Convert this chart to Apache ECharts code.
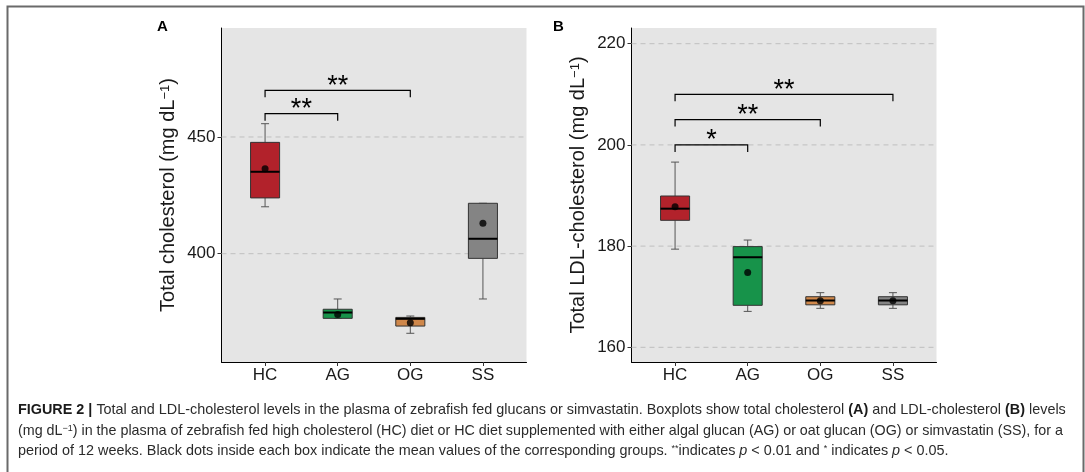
<!DOCTYPE html>
<html>
<head>
<meta charset="utf-8">
<script src="https://cdn.jsdelivr.net/npm/echarts@6/dist/echarts.min.js"></script>
<style>
  html, body { margin: 0; padding: 0; background: #fff; }
  #chart { width: 1085px; height: 472px; }
</style>
</head>
<body>
<div id="chart"></div>
<script>
// groups
var categories = ["HC", "AG", "OG", "SS"];
var boxColors = ["#b2222b", "#17934a", "#cf874a", "#848484"];

// panel A - total cholesterol
var cholMin = [420.1, 372.3, 365.9, 380.6];
var cholQ1 = [423.9, 372.3, 369.0, 398.0];
var cholMedian = [435.1, 374.8, 372.1, 406.4];
var cholQ3 = [447.7, 376.2, 372.7, 421.6];
var cholMax = [455.7, 380.6, 373.3, 421.6];
var cholMean = [436.4, 373.9, 370.4, 413.0];
var cholTicks = [400, 450];
var cholBracketFrom = [0, 0];
var cholBracketTo = [1, 2];
var cholBracketY = [460, 470];
var cholBracketLabel = ["**", "**"];

// panel B - LDL cholesterol
var ldlMin = [179.4, 167.1, 167.7, 167.7];
var ldlQ1 = [185.1, 168.3, 168.4, 168.4];
var ldlMedian = [187.4, 177.8, 169.25, 169.25];
var ldlQ3 = [189.9, 179.9, 170.0, 170.0];
var ldlMax = [196.6, 181.2, 170.8, 170.8];
var ldlMean = [187.8, 174.8, 169.2, 169.2];
var ldlTicks = [160, 180, 200, 220];
var ldlBracketFrom = [0, 0, 0];
var ldlBracketTo = [1, 2, 3];
var ldlBracketY = [200, 205, 210];
var ldlBracketLabel = ["*", "**", "**"];

var FONT = "'Liberation Sans', Arial, Helvetica, sans-serif";
var catIdx = [0, 1, 2, 3];

function boxData(mn, q1, md, q3, mx) {
  return categories.map(function (c, i) {
    return [i, mn[i], q1[i], md[i], q3[i], mx[i]];
  });
}

function renderBox(params, api) {
  var i = api.value(0);
  var band = api.size([1, 0])[0];
  var hw = band * 0.2, cw = band * 0.055;
  var x = api.coord([i, api.value(3)])[0];
  var yMin = api.coord([i, api.value(1)])[1];
  var yQ1 = api.coord([i, api.value(2)])[1];
  var yMed = api.coord([i, api.value(3)])[1];
  var yQ3 = api.coord([i, api.value(4)])[1];
  var yMax = api.coord([i, api.value(5)])[1];
  var wStyle = { stroke: "#555", lineWidth: 1 };
  return {
    type: "group",
    children: [
      { type: "line", shape: { x1: x, y1: yQ3, x2: x, y2: yMax }, style: wStyle },
      { type: "line", shape: { x1: x, y1: yQ1, x2: x, y2: yMin }, style: wStyle },
      { type: "line", shape: { x1: x - cw, y1: yMax, x2: x + cw, y2: yMax }, style: wStyle },
      { type: "line", shape: { x1: x - cw, y1: yMin, x2: x + cw, y2: yMin }, style: wStyle },
      {
        type: "rect",
        shape: { x: x - hw, y: yQ3, width: hw * 2, height: yQ1 - yQ3 },
        style: { fill: boxColors[i], stroke: "#333", lineWidth: 1 }
      },
      { type: "line", shape: { x1: x - hw, y1: yMed, x2: x + hw, y2: yMed }, style: { stroke: "#000", lineWidth: 2 } }
    ]
  };
}

function renderGridLine(params, api) {
  var cs = params.coordSys;
  var y = api.coord([0, api.value(1)])[1];
  return {
    type: "line",
    shape: { x1: cs.x, y1: y, x2: cs.x + cs.width, y2: y },
    style: { stroke: "#bfbfbf", lineWidth: 1, lineDash: [5, 4] }
  };
}

function bracketRenderer(labels) {
  return function (params, api) {
    var p1 = api.coord([api.value(0), api.value(2)]);
    var p2 = api.coord([api.value(1), api.value(2)]);
    return {
      type: "group",
      children: [
        {
          type: "polyline",
          shape: { points: [[p1[0], p1[1] + 7], p1, p2, [p2[0], p2[1] + 7]] },
          style: { stroke: "#000", lineWidth: 1.2, fill: null }
        },
        {
          type: "text",
          style: {
            text: labels[params.dataIndex],
            x: (p1[0] + p2[0]) / 2, y: p1[1] - 4,
            align: "center", verticalAlign: "middle",
            font: "27px " + FONT, fill: "#000"
          }
        }
      ]
    };
  };
}

function bracketData(from, to, y) {
  return from.map(function (f, i) { return [f, to[i], y[i]]; });
}

function xAxisFor(gi) {
  return {
    gridIndex: gi, type: "value", min: -0.6, max: 3.6,
    axisLine: { show: true, onZero: false, lineStyle: { color: "#000", width: 1 } },
    axisTick: { show: true, length: 4, customValues: catIdx, lineStyle: { color: "#333" } },
    axisLabel: {
      customValues: catIdx, fontSize: 17, color: "#1a1a1a", margin: 5, fontFamily: FONT,
      formatter: function (v) { return categories[Math.round(v)]; }
    },
    splitLine: { show: false }
  };
}

function yAxisFor(gi, min, max, ticks, name) {
  return {
    gridIndex: gi, type: "value", min: min, max: max,
    axisLine: { show: true, onZero: false, lineStyle: { color: "#000", width: 1 } },
    axisTick: { show: true, length: 4, customValues: ticks, lineStyle: { color: "#333" } },
    axisLabel: { customValues: ticks, fontSize: 17, color: "#1a1a1a", margin: 6, fontFamily: FONT },
    splitLine: { show: false },
    name: name, nameLocation: "middle", nameGap: 43,
    nameTextStyle: {
      fontSize: 20, color: "#1a1a1a", fontFamily: FONT,
      rich: { sup: { fontSize: 13, verticalAlign: "top", color: "#1a1a1a", fontFamily: FONT } }
    }
  };
}

function gridFor(left) {
  return {
    left: left, top: 28, width: 305, height: 334,
    show: true, backgroundColor: "#e5e5e5", borderWidth: 0,
    outerBoundsMode: "none"
  };
}

var CAP = 14.4;
var captionStyle = {
  fontSize: CAP, fontFamily: FONT, fill: "#2b2b2b",
  rich: {
    b: { fontSize: CAP, fontWeight: "bold", fontFamily: FONT, fill: "#1a1a1a" },
    i: { fontSize: CAP, fontStyle: "italic", fontFamily: FONT, fill: "#2b2b2b" },
    sup: { fontSize: 9, verticalAlign: "top", fontFamily: FONT, fill: "#2b2b2b" }
  }
};

function captionLine(text, y, size) {
  var st = Object.assign({ text: text }, captionStyle);
  if (size) st.fontSize = size;
  return { type: "text", left: 18, top: y, style: st };
}

var chart = echarts.init(document.getElementById("chart"));
chart.setOption({
  animation: false,
  textStyle: { fontFamily: FONT },
  grid: [gridFor(221.5), gridFor(631.5)],
  xAxis: [xAxisFor(0), xAxisFor(1)],
  yAxis: [
    yAxisFor(0, 353.6, 496.7, cholTicks, "Total cholesterol (mg dL{sup|\u22121})"),
    yAxisFor(1, 157.1, 223.1, ldlTicks, "Total LDL-cholesterol (mg dL{sup|\u22121})")
  ],
  graphic: [
    { type: "rect", left: 5, top: 4, shape: { width: 1076, height: 520 }, style: { fill: null, stroke: "#6a6a6a", lineWidth: 2 } },
    { type: "text", left: 157, top: 19, style: { text: "A", font: "bold 15px " + FONT, fill: "#000" } },
    { type: "text", left: 553, top: 19, style: { text: "B", font: "bold 15px " + FONT, fill: "#000" } },
    captionLine("{b|FIGURE 2 |} Total and LDL-cholesterol levels in the plasma of zebrafish fed glucans or simvastatin. Boxplots show total cholesterol {b|(A)} and LDL-cholesterol {b|(B)} levels", 403),
    captionLine("(mg dL{sup|\u22121}) in the plasma of zebrafish fed high cholesterol (HC) diet or HC diet supplemented with either algal glucan (AG) or oat glucan (OG) or simvastatin (SS), for a", 424, 14.3),
    captionLine("period of 12 weeks. Black dots inside each box indicate the mean values of the corresponding groups. {sup|**}indicates {i|p} < 0.01 and {sup|*} indicates {i|p} < 0.05.", 444)
  ],
  series: [
    { type: "custom", xAxisIndex: 0, yAxisIndex: 0, z: 1, silent: true, renderItem: renderGridLine,
      data: cholTicks.map(function (t) { return [0, t]; }) },
    { type: "custom", xAxisIndex: 1, yAxisIndex: 1, z: 1, silent: true, renderItem: renderGridLine,
      data: ldlTicks.map(function (t) { return [0, t]; }) },
    { type: "custom", name: "Total cholesterol", xAxisIndex: 0, yAxisIndex: 0, z: 3, renderItem: renderBox,
      encode: { x: 0, y: [1, 2, 3, 4, 5] }, data: boxData(cholMin, cholQ1, cholMedian, cholQ3, cholMax) },
    { type: "custom", name: "LDL-cholesterol", xAxisIndex: 1, yAxisIndex: 1, z: 3, renderItem: renderBox,
      encode: { x: 0, y: [1, 2, 3, 4, 5] }, data: boxData(ldlMin, ldlQ1, ldlMedian, ldlQ3, ldlMax) },
    { type: "scatter", xAxisIndex: 0, yAxisIndex: 0, z: 5, symbolSize: 7, itemStyle: { color: "#000" },
      data: cholMean.map(function (m, i) { return [i, m]; }) },
    { type: "scatter", xAxisIndex: 1, yAxisIndex: 1, z: 5, symbolSize: 7, itemStyle: { color: "#000" },
      data: ldlMean.map(function (m, i) { return [i, m]; }) },
    { type: "custom", xAxisIndex: 0, yAxisIndex: 0, z: 4, silent: true, renderItem: bracketRenderer(cholBracketLabel),
      encode: { x: [0, 1], y: 2 }, data: bracketData(cholBracketFrom, cholBracketTo, cholBracketY) },
    { type: "custom", xAxisIndex: 1, yAxisIndex: 1, z: 4, silent: true, renderItem: bracketRenderer(ldlBracketLabel),
      encode: { x: [0, 1], y: 2 }, data: bracketData(ldlBracketFrom, ldlBracketTo, ldlBracketY) }
  ]
});
</script>
</body>
</html>
